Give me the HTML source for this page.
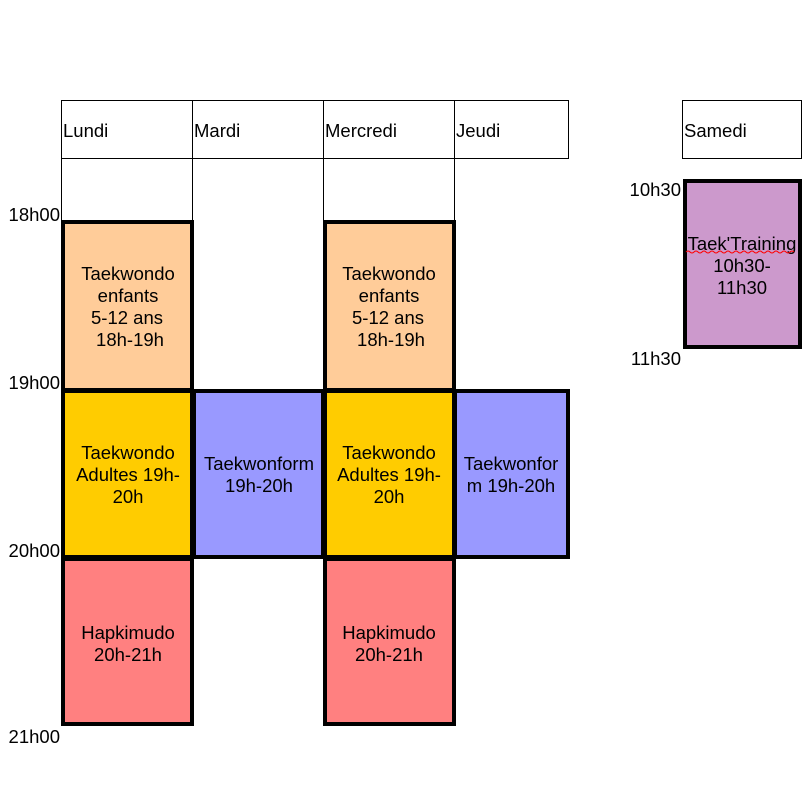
<!DOCTYPE html>
<html><head><meta charset="utf-8"><style>html,body{margin:0;padding:0;background:#fff}svg{display:block}text{font-family:"Liberation Sans",Arial,sans-serif;font-size:18.5px;fill:#000}</style></head><body>
<svg width="808" height="806" xmlns="http://www.w3.org/2000/svg">
<g stroke="#000" stroke-width="1" fill="none" shape-rendering="crispEdges">
<rect x="61.5" y="100.5" width="507" height="58"/>
<line x1="192.5" y1="100" x2="192.5" y2="222"/>
<line x1="323.5" y1="100" x2="323.5" y2="222"/>
<line x1="454.5" y1="100" x2="454.5" y2="222"/>
<line x1="61.5" y1="158" x2="61.5" y2="222"/>
<rect x="682.5" y="100.5" width="119" height="58"/>
</g>
<g stroke="#000" stroke-width="4">
<rect x="63" y="222" width="129" height="168" fill="#ffcc99"/>
<rect x="325" y="222" width="129" height="168" fill="#ffcc99"/>
<rect x="63" y="391" width="129" height="166" fill="#ffcc00"/>
<rect x="325" y="391" width="129" height="166" fill="#ffcc00"/>
<rect x="194" y="391" width="129" height="166" fill="#9999ff"/>
<rect x="455" y="391" width="113" height="166" fill="#9999ff"/>
<rect x="63" y="559" width="129" height="165" fill="#ff8080"/>
<rect x="325" y="559" width="129" height="165" fill="#ff8080"/>
<rect x="685" y="181" width="115" height="166" fill="#cc99cc"/>
</g>
<text x="63" y="137">Lundi</text>
<text x="194" y="137">Mardi</text>
<text x="325" y="137">Mercredi</text>
<text x="456" y="137">Jeudi</text>
<text x="684" y="137">Samedi</text>
<g text-anchor="end">
<text x="60" y="221">18h00</text>
<text x="60" y="389">19h00</text>
<text x="60" y="557">20h00</text>
<text x="60" y="743">21h00</text>
<text x="681" y="196">10h30</text>
<text x="681" y="365">11h30</text>
</g>
<g text-anchor="middle">
<text x="128" y="280">Taekwondo</text><text x="128" y="302">enfants</text><text x="127" y="324">5-12 ans</text><text x="130" y="346">18h-19h</text>
<text x="389" y="280">Taekwondo</text><text x="389" y="302">enfants</text><text x="388" y="324">5-12 ans</text><text x="391" y="346">18h-19h</text>
<text x="128" y="459">Taekwondo</text><text x="128" y="481">Adultes 19h-</text><text x="128" y="503">20h</text>
<text x="389" y="459">Taekwondo</text><text x="389" y="481">Adultes 19h-</text><text x="389" y="503">20h</text>
<text x="259" y="470">Taekwonform</text><text x="259" y="492">19h-20h</text>
<text x="511" y="470">Taekwonfor</text><text x="511" y="492">m 19h-20h</text>
<text x="128" y="639">Hapkimudo</text><text x="128" y="661">20h-21h</text>
<text x="389" y="639">Hapkimudo</text><text x="389" y="661">20h-21h</text>
<text x="742" y="250">Taek'Training</text><text x="742" y="272">10h30-</text><text x="742" y="294">11h30</text>
</g>
<path d="M686 252 q2 -2 4 0 t4 0 t4 0 t4 0 t4 0 t4 0 t4 0 t4 0 t4 0 t4 0 t4 0 t4 0 t4 0 t4 0 t4 0 t4 0 t4 0 t4 0 t4 0 t4 0 t4 0 t4 0 t4 0 t4 0 t4 0 t4 0 t4 0" stroke="#f00" stroke-width="1" fill="none"/>
</svg>
</body></html>
